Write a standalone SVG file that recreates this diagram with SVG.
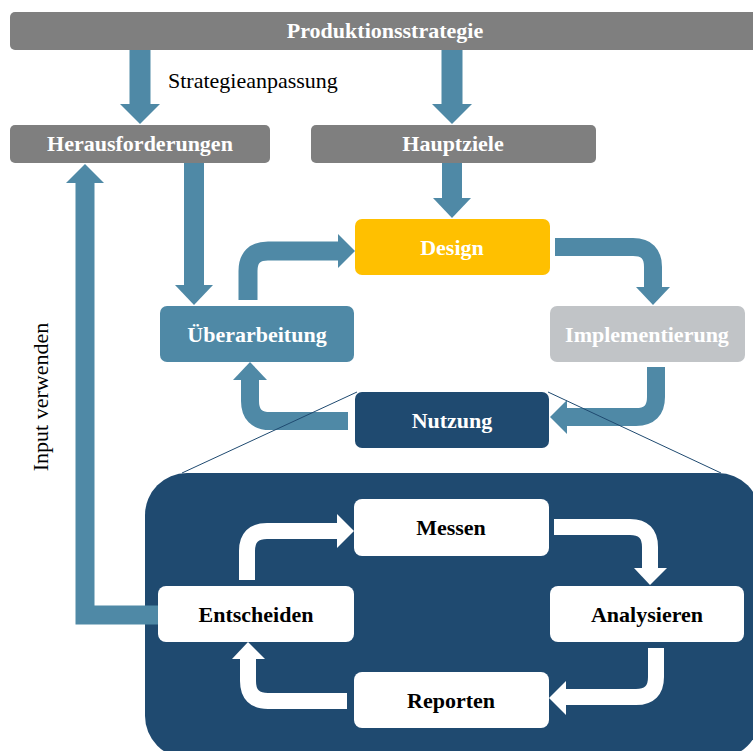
<svg xmlns="http://www.w3.org/2000/svg" width="753" height="751" viewBox="0 0 753 751">
  <style>
    .lbl { font-family: "Liberation Serif", "Times New Roman", serif; font-size: 22px; font-weight: bold; text-anchor: middle; fill: #ffffff; }
    .dark { fill: #000000; }
    .note { font-family: "Liberation Serif", "Times New Roman", serif; font-size: 22px; fill: #000000; }
    .gray { fill: #7f7f7f; }
    .blue { fill: #4f89a6; }
    .navy { fill: #1f4a70; }
    .white { fill: #ffffff; }
    .shaft { fill: none; stroke: #4f89a6; }
    .wshaft { fill: none; stroke: #ffffff; stroke-width: 16; }
    .head { fill: #4f89a6; }
    .whead { fill: #ffffff; }
    .zoomline { stroke: #1f4a70; stroke-width: 1; fill: none; }
  </style>

  <!-- detail panel behind the inner cycle -->
  <rect id="panel" x="145" y="473" width="615" height="285" rx="42" class="navy"/>

  <!-- nodes -->
  <g id="produktionsstrategie">
    <rect x="10" y="12" width="760" height="38" rx="5" class="gray"/>
    <text x="385" y="38" class="lbl">Produktionsstrategie</text>
  </g>
  <g id="herausforderungen">
    <rect x="10" y="125" width="260" height="38" rx="5" class="gray"/>
    <text x="140" y="151" class="lbl">Herausforderungen</text>
  </g>
  <g id="hauptziele">
    <rect x="311" y="125" width="285" height="38" rx="5" class="gray"/>
    <text x="453" y="151" class="lbl">Hauptziele</text>
  </g>
  <g id="design">
    <rect x="355" y="219" width="195" height="56" rx="7" fill="#ffc000"/>
    <text x="452" y="255" class="lbl">Design</text>
  </g>
  <g id="ueberarbeitung">
    <rect x="160" y="306" width="194" height="56" rx="7" class="blue"/>
    <text x="257" y="342" class="lbl">Überarbeitung</text>
  </g>
  <g id="implementierung">
    <rect x="550" y="306" width="195" height="56" rx="7" fill="#c1c4c7"/>
    <text x="647" y="342" class="lbl">Implementierung</text>
  </g>
  <g id="nutzung">
    <rect x="355" y="392" width="194" height="56" rx="7" class="navy"/>
    <text x="452" y="428" class="lbl">Nutzung</text>
  </g>

  <!-- connectors -->
  <g id="connectors">
    <!-- strategy to challenges / goals -->
    <path d="M140 50 V104" class="shaft" stroke-width="21"/>
    <polygon points="120,104 160,104 140,124" class="head"/>
    <path d="M452 50 V104" class="shaft" stroke-width="21"/>
    <polygon points="432,104 472,104 452,124" class="head"/>

    <!-- challenges to revision -->
    <path d="M194 163 V285" class="shaft" stroke-width="20"/>
    <polygon points="175,285 213,285 194,305" class="head"/>

    <!-- goals to design -->
    <path d="M452 163 V198" class="shaft" stroke-width="20"/>
    <polygon points="433,198 471,198 452,218" class="head"/>

    <!-- outer cycle -->
    <path d="M248 300 V271 Q248 251 268 251 H338" class="shaft" stroke-width="19"/>
    <polygon points="338,234 355,251 338,268" class="head"/>

    <path d="M555 247 H633 Q653 247 653 267 V287" class="shaft" stroke-width="18"/>
    <polygon points="636,287 670,287 653,305" class="head"/>

    <path d="M656 367 V397 Q656 417 636 417 H567" class="shaft" stroke-width="18"/>
    <polygon points="567,400 550,417 567,434" class="head"/>

    <path d="M348 421 H270 Q250 421 250 401 V380" class="shaft" stroke-width="18"/>
    <polygon points="233,380 250,362 267,380" class="head"/>

    <!-- feedback from deciding back to challenges -->
    <path d="M158 615 H85 V183" class="shaft" stroke-width="19" stroke-linejoin="miter"/>
    <polygon points="66,183 85,164 104,183" class="head"/>

    <!-- inner cycle -->
    <path d="M247 580 V551 Q247 531 267 531 H337" class="wshaft"/>
    <polygon points="337,514 354,531 337,548" class="whead"/>

    <path d="M554 527 H630 Q650 527 650 547 V568" class="wshaft"/>
    <polygon points="634,568 667,568 650,585" class="whead"/>

    <path d="M656 648 V677 Q656 697 636 697 H566" class="wshaft"/>
    <polygon points="566,681 549,698 566,715" class="whead"/>

    <path d="M347 701 H268 Q248 701 248 681 V659" class="wshaft"/>
    <polygon points="232,659 248,642 265,659" class="whead"/>

    <!-- zoom lines from usage to the detail panel -->
    <line x1="357" y1="392" x2="182" y2="473" class="zoomline"/>
    <line x1="548" y1="392" x2="721" y2="473" class="zoomline"/>
  </g>

  <!-- inner nodes -->
  <g id="messen">
    <rect x="354" y="499" width="195" height="57" rx="8" class="white"/>
    <text x="451" y="535" class="lbl dark">Messen</text>
  </g>
  <g id="entscheiden">
    <rect x="158" y="586" width="196" height="56" rx="8" class="white"/>
    <text x="256" y="622" class="lbl dark">Entscheiden</text>
  </g>
  <g id="analysieren">
    <rect x="550" y="586" width="194" height="56" rx="8" class="white"/>
    <text x="647" y="622" class="lbl dark">Analysieren</text>
  </g>
  <g id="reporten">
    <rect x="354" y="672" width="195" height="56" rx="8" class="white"/>
    <text x="451" y="708" class="lbl dark">Reporten</text>
  </g>

  <!-- edge labels -->
  <text x="168" y="88" class="note">Strategieanpassung</text>
  <text transform="translate(48 397) rotate(-90)" text-anchor="middle" class="note">Input verwenden</text>
</svg>
